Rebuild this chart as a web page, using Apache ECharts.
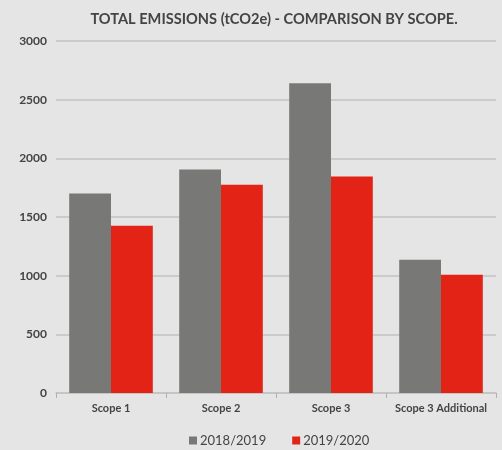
<!DOCTYPE html>
<html>
<head>
<meta charset="utf-8">
<script src="https://cdn.jsdelivr.net/npm/echarts@6/dist/echarts.min.js"></script>
<style>
html,body{margin:0;padding:0;background:#e5e5e5;}
#chart{width:502px;height:450px;}
</style>
</head>
<body>
<div id="chart"></div>
<script>
const categories = ['Scope 1', 'Scope 2', 'Scope 3', 'Scope 3 Additional'];
const series2018 = [1700, 1905, 2640, 1135];
const series2020 = [1425, 1775, 1845, 1007];
const seriesNames = ['2018/2019', '2019/2020'];
const yTicks = [0, 500, 1000, 1500, 2000, 2500, 3000];

const chart = echarts.init(document.getElementById('chart'));
chart.setOption({
  backgroundColor: '#e5e5e5',
  animation: false,
  textStyle: { fontFamily: 'Lato, "Open Sans", sans-serif' },
  title: {
    text: 'TOTAL EMISSIONS (tCO2e) - COMPARISON BY SCOPE.',
    left: 269, textAlign: 'center', top: 7,
    textStyle: { fontSize: 14.6, fontWeight: 'bold', color: '#444', fontFamily: 'Lato, sans-serif' }
  },
  legend: {
    data: seriesNames,
    bottom: -2, left: 184,
    itemWidth: 8, itemHeight: 8, itemGap: 26,
    icon: 'rect',
    textStyle: { fontSize: 13, color: '#444', padding: [0, 0, 0, -2] }
  },
  grid: { left: 56, right: 6, top: 41, bottom: 57 },
  xAxis: {
    type: 'category',
    data: categories,
    axisLine: { lineStyle: { color: '#c4c4c4', width: 1.5 } },
    axisTick: { show: true, length: 5, lineStyle: { color: '#b0b0b0' } },
    axisLabel: { interval: 0, fontSize: 11, color: '#444', margin: 10, fontWeight: 'bold' }
  },
  yAxis: {
    type: 'value',
    min: yTicks[0], max: yTicks[yTicks.length - 1], interval: 500,
    axisLine: { show: false },
    axisTick: { show: false },
    axisLabel: { fontSize: 12, color: '#444', fontWeight: 'bold', margin: 9, formatter: v => String(v) },
    splitLine: { lineStyle: { color: '#c2c2c2', width: 1.5 } }
  },
  series: [
    { name: seriesNames[0], type: 'bar', data: series2018, barGap: '0%', barCategoryGap: '24%',
      itemStyle: { color: '#787876' } },
    { name: seriesNames[1], type: 'bar', data: series2020, barGap: '0%', barCategoryGap: '24%',
      itemStyle: { color: '#e32315' } }
  ]
});
</script>
</body>
</html>
